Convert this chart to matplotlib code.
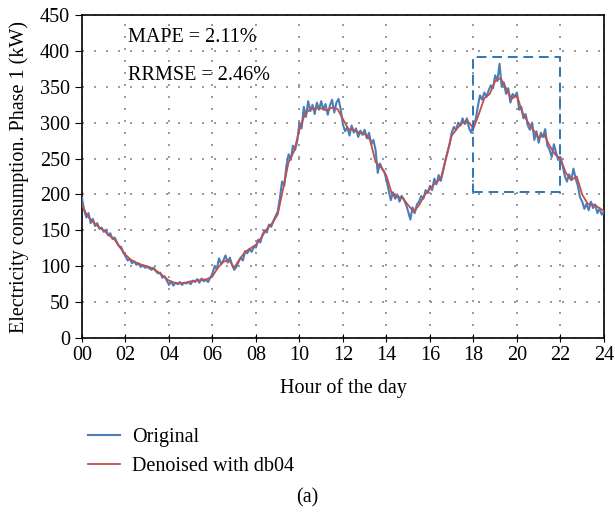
import numpy as np
import matplotlib
matplotlib.use("Agg")
import matplotlib.pyplot as plt
from matplotlib.patches import Rectangle

plt.rcParams['font.family'] = ['Liberation Serif', 'DejaVu Serif']

# denoised curve, every 15 minutes (kW)
hours_dn = np.linspace(0, 24, 97)
denoised = [185, 170, 162, 155, 150, 143, 137, 126, 116, 109, 105, 102,
            100, 97, 92, 86, 80, 77, 76, 77, 79, 80, 81, 82,
            86, 98, 106, 109, 98, 110, 120, 125, 130, 140, 152, 160,
            172, 208, 245, 260, 290, 312, 319, 320, 320, 317, 321, 319,
            305, 291, 290, 286, 284, 276, 245, 238, 226, 201, 197, 195,
            185, 176, 185, 199, 208, 216, 222, 252, 282, 292, 300, 302,
            292, 312, 334, 340, 358, 362, 348, 333, 338, 314, 301, 290,
            279, 283, 268, 256, 250, 230, 220, 225, 200, 187, 186, 182,
            177]

# original measurement, every 6 minutes (kW)
hours_or = np.linspace(0, 24, 241)
original = [195, 178, 168, 174, 160, 166, 156, 160, 152, 154,
            148, 151, 143, 146, 138, 140, 134, 128, 127, 119,
            114, 108, 110, 104, 107, 102, 104, 99, 101, 98,
            99, 97, 95, 98, 93, 90, 91, 84, 86, 80,
            74, 79, 73, 77, 75, 78, 74, 77, 76, 78,
            75, 80, 78, 82, 77, 83, 79, 81, 78, 84,
            90, 100, 96, 111, 103, 108, 115, 105, 112, 102,
            95, 99, 106, 112, 108, 121, 118, 124, 120, 127,
            126, 137, 133, 144, 150, 147, 158, 155, 163, 170,
            176, 195, 218, 212, 240, 256, 248, 268, 262, 275,
            300, 292, 322, 308, 330, 316, 325, 312, 328, 318,
            330, 318, 326, 311, 324, 332, 314, 328, 333, 318,
            297, 288, 294, 282, 296, 286, 292, 280, 289, 283,
            290, 278, 286, 270, 276, 262, 230, 243, 236, 232,
            220, 206, 192, 203, 194, 200, 190, 198, 193, 186,
            176, 165, 182, 174, 186, 190, 198, 194, 206, 202,
            212, 206, 222, 214, 227, 219, 232, 246, 258, 270,
            286, 294, 290, 300, 296, 306, 298, 306, 292, 286,
            298, 304, 322, 338, 332, 342, 336, 345, 352, 348,
            366, 358, 382, 350, 356, 340, 348, 328, 340, 336,
            342, 318, 322, 306, 312, 296, 290, 300, 276, 288,
            272, 286, 280, 291, 268, 262, 252, 270, 258, 248,
            252, 240, 226, 218, 228, 220, 236, 222, 212, 196,
            190, 180, 187, 178, 190, 181, 186, 174, 180, 172,
            176]

xticks = list(range(0, 25, 2))
xlabels = ['%02d' % h for h in xticks]

fs = 14.5

fig = plt.figure(figsize=(6.15, 5.17), dpi=100)
ax = fig.add_axes([0.1333, 0.3462, 0.8487, 0.6248])

ax.plot(hours_or, original, color='#4a7ebb', lw=1.5, label='Original', zorder=3)
ax.plot(hours_dn, denoised, color='#c0504d', lw=1.3, label='Denoised with db04', zorder=4)

# zoomed region box
ax.add_patch(Rectangle((18, 203), 4, 188, fill=False, edgecolor='#2e75b6',
                       lw=1.4, ls=(0, (5, 3)), zorder=5))

ax.text(2.1, 418, 'MAPE = 2.11%', fontsize=fs, va='center')
ax.text(2.1, 366, 'RRMSE = 2.46%', fontsize=fs, va='center')

ax.set_xlim(0, 24)
ax.set_ylim(0, 450)
ax.set_xticks(xticks)
ax.set_xticklabels(xlabels)
ax.set_yticks(range(0, 451, 50))
ax.tick_params(axis='x', direction='inout', length=6, labelsize=fs, pad=3)
ax.tick_params(axis='y', direction='out', length=5, labelsize=fs)
ax.grid(True, color='#888888', lw=1.2, ls=(0, (1.2, 6)))
for s in ax.spines.values():
    s.set_linewidth(1.2)

ax.set_xlabel('Hour of the day', fontsize=fs, labelpad=9)
ax.set_ylabel('Electricity consumption. Phase 1 (kW)', fontsize=fs, labelpad=8)

ax.legend(loc='upper left', bbox_to_anchor=(0.13, 0.187), bbox_transform=fig.transFigure,
          frameon=False, fontsize=fs, handlelength=1.6, handletextpad=0.6,
          labelspacing=0.45, borderaxespad=0)

fig.text(0.5, 0.037, '(a)', ha='center', va='center', fontsize=fs)

fig.savefig('out.png', dpi=100)
